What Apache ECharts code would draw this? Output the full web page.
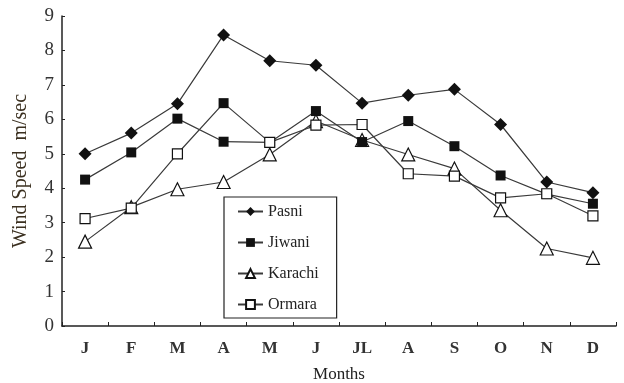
<!DOCTYPE html>
<html>
<head>
<meta charset="utf-8">
<script src="https://cdn.jsdelivr.net/npm/echarts@6/dist/echarts.min.js"></script>
<style>
  html, body { margin: 0; padding: 0; background: #fff; }
  #chart { width: 624px; height: 383px; }
</style>
</head>
<body>
<div id="chart"></div>
<script>
// Monthly mean wind speed (m/sec) at four coastal stations
const months = ['J', 'F', 'M', 'A', 'M', 'J', 'JL', 'A', 'S', 'O', 'N', 'D'];
const pasni   = [5.0, 5.6, 6.45, 8.45, 7.7, 7.57, 6.47, 6.7, 6.87, 5.85, 4.18, 3.87];
const jiwani  = [4.25, 5.04, 6.02, 5.35, 5.33, 6.24, 5.34, 5.95, 5.22, 4.37, 3.83, 3.55];
const karachi = [2.45, 3.45, 3.97, 4.18, 4.98, 5.95, 5.4, 4.98, 4.57, 3.36, 2.25, 1.98];
const ormara  = [3.12, 3.42, 5.0, 6.47, 5.33, 5.83, 5.85, 4.42, 4.35, 3.72, 3.84, 3.2];
const yTicks  = [0, 1, 2, 3, 4, 5, 6, 7, 8, 9];

const serif = '"Liberation Serif", "DejaVu Serif", serif';
const lineColor = '#3a3a3a';

function series(name, data, symbol, size, filled, z) {
  return {
    name: name,
    type: 'line',
    data: data,
    symbol: symbol,
    symbolSize: size,
    showSymbol: true,
    z: z,
    lineStyle: { color: lineColor, width: 1.2 },
    itemStyle: {
      color: filled ? '#111' : '#fff',
      borderColor: '#111',
      borderWidth: filled ? 0 : 1.2
    },
    emphasis: { disabled: true }
  };
}

// The April Ormara point is printed with a solid marker
const ormaraData = ormara.map((v, i) =>
  i === 3 ? { value: v, itemStyle: { color: '#111', borderWidth: 0 } } : v);

const chart = echarts.init(document.getElementById('chart'), null, { renderer: 'canvas' });
chart.setOption({
  animation: false,
  backgroundColor: '#fff',
  grid: { left: 62, right: 8, top: 16, bottom: 57, containLabel: false, outerBoundsMode: 'none' },
  legend: {
    data: ['Pasni', 'Jiwani', 'Karachi', 'Ormara'],
    orient: 'vertical',
    left: 224,
    top: 197,
    padding: [6, 18, 5, 13],
    itemGap: 14,
    itemWidth: 25,
    itemHeight: 11,
    backgroundColor: '#fff',
    borderColor: '#222',
    borderWidth: 1.2,
    borderRadius: 0,
    textStyle: { fontFamily: serif, fontSize: 16, color: '#222', lineHeight: 17 }
  },
  xAxis: {
    type: 'category',
    data: months,
    boundaryGap: true,
    name: 'Months',
    nameLocation: 'middle',
    nameGap: 40,
    nameTextStyle: { fontFamily: serif, fontSize: 17, color: '#222' },
    axisLine: { lineStyle: { color: '#222', width: 1.5 } },
    axisTick: { show: true, inside: true, length: 4, lineStyle: { color: '#222' } },
    axisLabel: { fontFamily: serif, fontSize: 17, fontWeight: 'bold', color: '#333', margin: 14 },
    splitLine: { show: false }
  },
  yAxis: {
    type: 'value',
    min: yTicks[0],
    max: yTicks[yTicks.length - 1],
    interval: 1,
    name: 'Wind Speed  m/sec',
    nameLocation: 'middle',
    nameRotate: 90,
    nameGap: 31,
    nameTextStyle: { fontFamily: serif, fontSize: 20, color: '#3b3020' },
    axisLine: { show: true, lineStyle: { color: '#222', width: 1.5 } },
    axisTick: { show: true, inside: true, length: 3, lineStyle: { color: '#222' } },
    axisLabel: { fontFamily: serif, fontSize: 19, color: '#333', margin: 8 },
    splitLine: { show: false }
  },
  series: [
    series('Pasni', pasni, 'diamond', 13, true, 5),
    series('Jiwani', jiwani, 'rect', 10, true, 3),
    series('Karachi', karachi, 'triangle', 13, false, 2),
    Object.assign(series('Ormara', ormara, 'rect', 10, false, 4), { data: ormaraData })
  ]
});
</script>
</body>
</html>
